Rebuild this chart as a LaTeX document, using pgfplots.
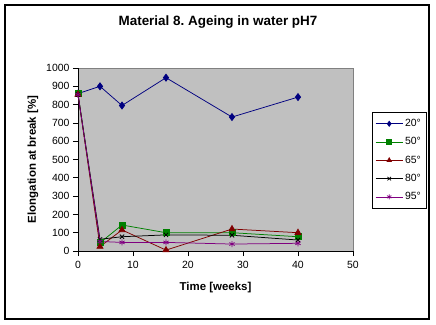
\documentclass[border=0pt]{standalone}
\usepackage{fontspec}
\setmainfont{Liberation Sans}
\usepackage{pgfplots}
\pgfplotsset{compat=1.18}
\frenchspacing
\definecolor{xnavy}{RGB}{0,0,128}
\definecolor{xgreen}{RGB}{0,128,0}
\definecolor{xred}{RGB}{128,0,0}
\definecolor{xpurple}{RGB}{128,0,128}
\definecolor{xplot}{RGB}{192,192,192}
\definecolor{xframe}{RGB}{128,128,128}
\begin{document}
\begin{tikzpicture}
\useasboundingbox (-78bp,-74bp) rectangle (358bp,251bp);
\fill[white] (-78bp,-74bp) rectangle (358bp,251bp);
\draw[black,line width=1.5bp] (-73bp,-68bp) rectangle (351bp,246bp);
\node[font=\fontsize{13.5}{16}\selectfont\bfseries] at (140bp,229bp) {Material 8.\ Ageing in water pH7};
\begin{axis}[
  scale only axis,
  width=275bp, height=183bp,
  xmin=0, xmax=50, ymin=0, ymax=1000,
  xtick={0,10,...,50}, ytick={0,100,...,1000},
  axis lines*=left,
  axis line style={-, black, line width=0.75bp},
  axis background/.style={fill=xplot, draw=xframe, line width=0.75bp},
  tick align=outside,
  major tick length=5bp,
  tick style={black, line width=0.75bp},
  /pgf/number format/assume math mode=true,
  /pgf/number format/1000 sep={},
  ticklabel style={font=\fontsize{10.5}{12}\selectfont},
  xticklabel style={yshift=-2bp},
  xlabel={Time [weeks]},
  ylabel={Elongation at break [\%]},
  label style={font=\fontsize{11.5}{13}\selectfont\bfseries},
  xlabel style={at={(axis description cs:0.5,-0.2022)}, anchor=center},
  ylabel style={at={(axis description cs:-0.1636,0.5)}, anchor=center, rotate=0},
  clip=false,
  every axis plot/.append style={line width=0.75bp},
  legend style={at={(axis description cs:1.069,0.7596)}, anchor=north west,
    draw=black, line width=0.75bp, fill=white,
    font=\fontsize{10.5}{12}\selectfont, row sep=5.5bp, inner xsep=3bp, inner ysep=5bp,
    cells={anchor=west}},
  legend image code/.code={\draw[mark repeat=2,mark phase=2, mark size=2.5bp] plot coordinates {(0bp,0bp) (13.5bp,0bp) (27bp,0bp)};},
]
\addplot[color=xnavy, mark=diamond*, mark size=3.5bp] coordinates {(0,860) (4,900) (8,795) (16,947) (28,732) (40,841)};
\addlegendentry{20°}
\addplot[color=xgreen, mark=square*, mark size=3bp] coordinates {(0,860) (4,45) (8,142) (16,100) (28,100) (40,78)};
\addlegendentry{50°}
\addplot[color=xred, mark=triangle*, mark size=3.5bp] coordinates {(0,855) (4,24) (8,115) (16,5) (28,120) (40,100)};
\addlegendentry{65°}
\addplot[color=black, mark=x, mark size=3bp] coordinates {(0,855) (4,64) (8,78) (16,88) (28,86) (40,60)};
\addlegendentry{80°}
\addplot[color=xpurple, mark=asterisk, mark size=3bp] coordinates {(0,855) (4,52) (8,47) (16,47) (28,38) (40,42)};
\addlegendentry{95°}
\end{axis}
\end{tikzpicture}
\end{document}
